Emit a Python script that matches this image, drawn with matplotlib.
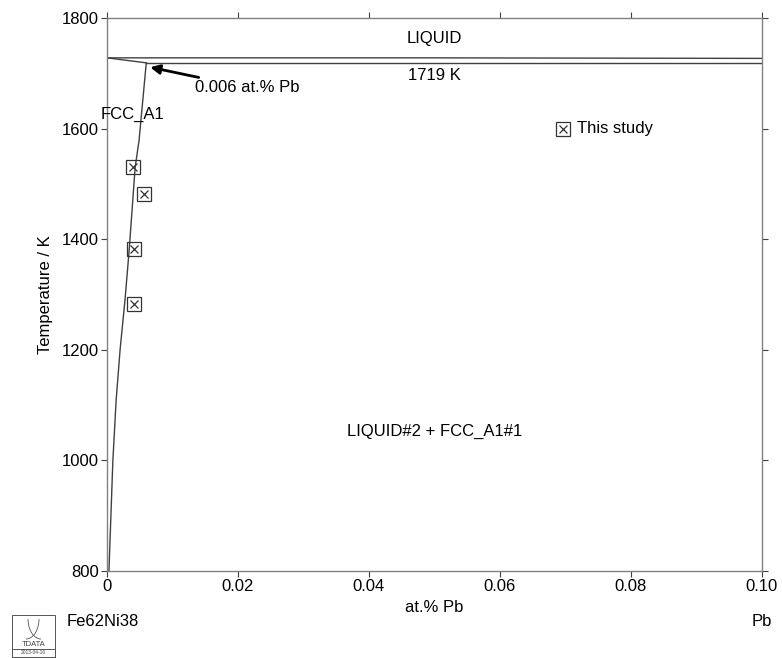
import matplotlib.pyplot as plt
from matplotlib.patches import Rectangle, Arc

plt.rcParams['font.family'] = ['Liberation Sans', 'DejaVu Sans']

# Phase boundaries (at.% Pb, K)
liq_x = [0.0, 0.05, 0.1]
liq_T = [1728, 1728, 1727]
mono_x = [0.006, 0.1]
mono_T = [1719, 1719]
sol_x = [0.0, 0.006]
sol_T = [1728, 1719]
solvus_x = [0.0003, 0.0006, 0.0009, 0.0014, 0.0020, 0.00275, 0.0034, 0.0043, 0.0049, 0.006]
solvus_T = [800, 900, 1000, 1109, 1200, 1290, 1382, 1530, 1579, 1719]

# Experimental points
exp_x = [0.004, 0.0057, 0.0042, 0.0042]
exp_T = [1530, 1482, 1383, 1283]

fs = 12
fig = plt.figure(figsize=(7.82, 6.58), dpi=100)
ax = fig.add_axes([0.1368, 0.1322, 0.8376, 0.8404])

lc = '#404040'
ax.plot(liq_x, liq_T, color=lc, lw=1.0)
ax.plot(mono_x, mono_T, color=lc, lw=1.0)
ax.plot(sol_x, sol_T, color=lc, lw=1.0)
ax.plot(solvus_x, solvus_T, color=lc, lw=1.0)

ax.plot(exp_x, exp_T, ls='none', marker='s', ms=10, mfc='none', mec='#333333', mew=0.9)
ax.plot(exp_x, exp_T, ls='none', marker='x', ms=6, mec='#333333', mew=0.9)

# legend entry
ax.plot([0.0696], [1600], ls='none', marker='s', ms=10, mfc='none', mec='#333333', mew=0.9)
ax.plot([0.0696], [1600], ls='none', marker='x', ms=6, mec='#333333', mew=0.9)
ax.text(0.0718, 1601, 'This study', fontsize=fs, va='center', ha='left')

ax.text(0.05, 1763, 'LIQUID', fontsize=fs, ha='center', va='center')
ax.text(0.05, 1696, '1719 K', fontsize=fs, ha='center', va='center')
ax.text(-0.001, 1626, 'FCC_A1', fontsize=fs, ha='left', va='center')
ax.text(0.05, 1052, 'LIQUID#2 + FCC_A1#1', fontsize=fs, ha='center', va='center')
ax.annotate('0.006 at.% Pb', xy=(0.0066, 1711), xytext=(0.0135, 1674),
            fontsize=fs, va='center', ha='left',
            arrowprops=dict(arrowstyle='-|>', color='black', lw=2, mutation_scale=14,
                            shrinkA=0, shrinkB=0))

ax.set_xlim(0, 0.1)
ax.set_ylim(800, 1800)
ax.set_xticks([0, 0.02, 0.04, 0.06, 0.08, 0.1])
ax.set_xticklabels(['0', '0.02', '0.04', '0.06', '0.08', '0.10'])
ax.set_yticks([800, 1000, 1200, 1400, 1600, 1800])
ax.tick_params(direction='out', length=4, width=0.8, color='#404040', labelsize=fs,
               top=True, right=True, pad=2)
for s in ax.spines.values():
    s.set_color('#808080')
    s.set_linewidth(1.0)

ax.set_ylabel('Temperature / K', fontsize=fs, labelpad=6)
fig.text(434 / 782, 1 - 608 / 658, 'at.% Pb', fontsize=fs, ha='center', va='center')
fig.text(762 / 782, 1 - 621 / 658, 'Pb', fontsize=fs, ha='center', va='center')
fig.text(67 / 782, 1 - 621 / 658, 'Fe62Ni38', fontsize=fs, ha='left', va='center')

# TDATA logo
lx, ly, lw_, lh = 12 / 782, 1 - 657 / 658, 43 / 782, 42 / 658
fig.patches.append(Rectangle((lx, ly), lw_, lh, transform=fig.transFigure,
                             fill=False, ec='#555555', lw=0.7))
fig.patches.append(Rectangle((lx, ly), lw_, 8 / 658, transform=fig.transFigure,
                             fill=False, ec='#555555', lw=0.7))
fig.text(lx + lw_ / 2, ly + 12 / 658, 'TDATA', fontsize=5.5, ha='center', va='center',
         color='#444444')
fig.text(lx + lw_ / 2, ly + 4 / 658, '2013-04-16', fontsize=3.5, ha='center', va='center',
         color='#444444')
fig.patches.append(Arc((lx + 14 / 782, ly + 38 / 658), 26 / 782, 40 / 658, theta1=270,
                       theta2=360, transform=fig.transFigure, ec='#555555', lw=0.6))
fig.patches.append(Arc((lx + 29 / 782, ly + 38 / 658), 26 / 782, 40 / 658, theta1=180,
                       theta2=270, transform=fig.transFigure, ec='#555555', lw=0.6))

plt.savefig('out.png', dpi=100)
